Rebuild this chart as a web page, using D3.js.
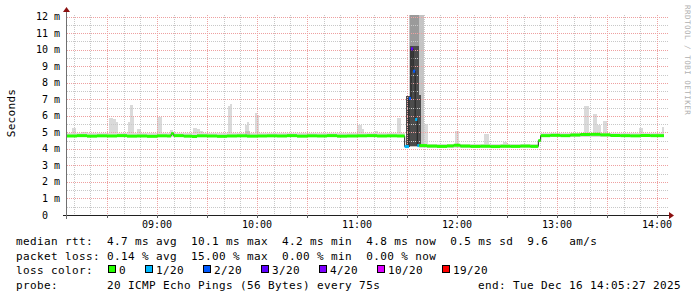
<!DOCTYPE html>
<html>
<head>
<meta charset="utf-8">
<script src="https://cdn.jsdelivr.net/npm/d3@7"></script>
<style>
body { margin: 0; background: #fff; }
svg text { font-family: "DejaVu Sans Mono", monospace; fill: #000; white-space: pre; }
</style>
</head>
<body>
<svg id="chart" width="697" height="297"></svg>
<script>
"use strict";

// Data (minutes after 08:06, values in ms)

const startTime = new Date(2025, 11, 16, 8, 6, 0);
const endTime = new Date(2025, 11, 16, 14, 6, 0);

// [minute, median rtt (ms), loss level index]
const medianRtt = [
	[0, 4.78, 0], [6, 4.80, 0], [12, 4.77, 0], [18, 4.79, 0], [24, 4.78, 0],
	[30, 4.80, 0], [36, 4.77, 0], [42, 4.78, 0], [48, 4.76, 0], [54, 4.79, 0],
	[60, 4.78, 0], [62.5, 4.92, 0], [64, 4.80, 0], [70, 4.77, 0], [75, 4.75, 0],
	[78, 4.79, 0], [84, 4.78, 0], [90, 4.76, 0], [96, 4.78, 0], [102, 4.79, 0],
	[108, 4.77, 0], [114, 4.78, 0], [120, 4.79, 0], [126, 4.78, 0], [132, 4.80, 0],
	[138, 4.77, 0], [144, 4.79, 0], [150, 4.78, 0], [156, 4.80, 0], [162, 4.77, 0],
	[168, 4.78, 0], [174, 4.79, 0], [180, 4.80, 0], [186, 4.78, 0], [192, 4.79, 0],
	[198, 4.78, 0],
	[202.6, 4.14, 1], [205.15, 7.05, 2], [206.4, 10.05, 3], [207.65, 8.7, 2],
	[208.9, 5.78, 1], [210.15, 4.2, 1],
	[211.4, 4.2, 0], [216, 4.17, 0], [222, 4.15, 0], [228, 4.18, 0], [232, 4.22, 0],
	[236, 4.17, 0], [242, 4.15, 0], [248, 4.16, 0], [254, 4.14, 0], [260, 4.16, 0],
	[266, 4.15, 0], [272, 4.17, 0], [278, 4.15, 0], [282.8, 4.5, 0], [284.2, 4.8, 0],
	[290, 4.82, 0], [296, 4.80, 0], [302, 4.84, 0], [308, 4.87, 0], [314, 4.88, 0],
	[320, 4.85, 0], [326, 4.81, 0], [332, 4.80, 0], [338, 4.79, 0], [344, 4.81, 0],
	[350, 4.80, 0], [358.2, 4.80, 0]
];

// light smoke band around the median [from, to, min, max]
const smokeBase = [
	[0, 202.6, 4.70, 4.95],
	[211.4, 282.8, 4.08, 4.30],
	[284.2, 358.2, 4.72, 4.98]
];

// single light smoke spikes [from, to, max]
const smokeSpikes = [
	[3.0, 5.4, 5.28], [8.4, 12.0, 5.0], [25.2, 27.6, 5.89], [27.6, 29.4, 5.79],
	[29.4, 30.6, 5.63], [33.0, 34.8, 4.96], [36.6, 37.8, 5.63], [37.8, 39.6, 6.65],
	[39.6, 40.2, 5.95], [42.0, 44.4, 5.2], [54.0, 57.0, 5.95], [61.8, 63.6, 5.12],
	[63.6, 64.8, 5.0], [75.6, 78.0, 5.26], [78.0, 79.8, 5.18], [79.8, 81.6, 5.1],
	[96.6, 97.8, 6.6], [97.8, 99.0, 6.71], [106.8, 108.0, 5.46], [108.0, 109.2, 5.63],
	[112.8, 114.0, 6.15], [114.0, 115.2, 6.05], [129.6, 135.0, 4.98], [138.6, 148.8, 4.97],
	[174.0, 177.0, 5.44], [177.0, 178.2, 5.2], [184.8, 186.6, 5.06], [198.0, 200.4, 5.87],
	[213.6, 216.6, 5.49], [232.8, 235.2, 5.08], [250.2, 253.2, 4.88], [261.6, 264.0, 4.43],
	[286.8, 289.8, 4.93], [300.0, 301.8, 4.95], [310.2, 313.2, 6.59], [315.6, 318.0, 6.11],
	[318.0, 320.4, 5.44], [321.6, 324.0, 5.69], [343.2, 345.6, 5.28], [357.0, 358.2, 5.32]
];

// denser smoke layers during the outage [from, to, min, max]
const smokeMid = [
	[106.8, 109.8, 4.75, 5.1],
	[205.2, 214.2, 4.1, 12.5]
];
const smokeMid2 = [
	[206.0, 211.2, 4.15, 12.5]
];
const smokeDark = [
	[203.6, 206.0, 4.1, 7.2],
	[206.0, 211.2, 4.15, 10.2],
	[211.2, 212.4, 4.15, 7.25]
];

const lossLabels = ["0", "1/20", "2/20", "3/20", "4/20", "10/20", "19/20"];
const lossColors = ["#26ff00", "#00b8ff", "#0059ff", "#5e00ff", "#7e00ff", "#dd00ff", "#ff0000"];

const yTicks = d3.range(0, 13, 1);
const statLines = [
	"median rtt:  4.7 ms avg  10.1 ms max  4.2 ms min  4.8 ms now  0.5 ms sd  9.6   am/s",
	"packet loss: 0.14 % avg  15.00 % max  0.00 % min  0.00 % now"
];
const probeText = "probe:       20 ICMP Echo Pings (56 Bytes) every 75s";
const endText = "end: Tue Dec 16 14:05:27 2025";

// Set up svg and scales

const svg = d3.select("#chart");
const plotLeft = 67, plotRight = 667, plotTop = 15, plotBottom = 215;

function at(min) {
	return new Date(startTime.getTime() + min * 60000);
}

const x = d3.scaleTime().domain([startTime, endTime]).range([plotLeft, plotRight]);
const y = d3.scaleLinear().domain([0, 12.1]).range([plotBottom, plotTop]).clamp(true);

// Smoke

function drawBands(data, fill) {
	svg.append("g")
		.attr("shape-rendering", "crispEdges")
		.selectAll("rect")
		.data(data)
		.enter()
		.append("rect")
		.attr("x", d => x(at(d[0])))
		.attr("width", d => x(at(d[1])) - x(at(d[0])))
		.attr("y", d => y(d[3]))
		.attr("height", d => y(d[2]) - y(d[3]))
		.attr("fill", fill);
}

drawBands(smokeBase, "#dcdcdc");
// spikes start from the band underneath them
drawBands(smokeSpikes.map(function(d) {
	const base = smokeBase.find(b => d[0] >= b[0] && d[0] < b[1]) || smokeBase[0];
	return [d[0], d[1], base[2], d[2]];
}), "#dadada");
drawBands(smokeMid, "#c4c4c4");
drawBands(smokeMid2, "#9a9a9a");
drawBands(smokeDark, "#4c4c4c");

// Grid

const grid = svg.append("g").attr("shape-rendering", "crispEdges");

grid.selectAll(".hminor")
	.data(d3.range(0.5, 12.1, 1))
	.enter()
	.append("line")
	.attr("x1", plotLeft).attr("x2", plotRight + 1)
	.attr("y1", d => Math.round(y(d)) + 0.5).attr("y2", d => Math.round(y(d)) + 0.5)
	.attr("stroke", "#c8c8c8")
	.attr("stroke-dasharray", "1,1");

grid.selectAll(".vminor")
	.data(x.ticks(d3.timeMinute.every(10)))
	.enter()
	.append("line")
	.attr("x1", d => Math.round(x(d)) + 0.5).attr("x2", d => Math.round(x(d)) + 0.5)
	.attr("y1", plotTop).attr("y2", plotBottom)
	.attr("stroke", "#c8c8c8")
	.attr("stroke-dasharray", "1,1");

grid.selectAll(".hmajor")
	.data(yTicks.slice(1))
	.enter()
	.append("line")
	.attr("x1", plotLeft).attr("x2", plotRight + 1)
	.attr("y1", d => Math.round(y(d)) + 0.5).attr("y2", d => Math.round(y(d)) + 0.5)
	.attr("stroke", "#eea0a0")
	.attr("stroke-dasharray", "1,1");

grid.selectAll(".vmajor")
	.data(x.ticks(d3.timeMinute.every(30)))
	.enter()
	.append("line")
	.attr("x1", d => Math.round(x(d)) + 0.5).attr("x2", d => Math.round(x(d)) + 0.5)
	.attr("y1", plotTop).attr("y2", plotBottom)
	.attr("stroke", "#eea0a0")
	.attr("stroke-dasharray", "1,1");

// Median line: thin dark step line, then loss coloured pieces on top

const line = d3.line()
	.x(d => x(at(d[0])))
	.y(d => y(d[1]))
	.curve(d3.curveStepAfter);

svg.append("path")
	.datum(medianRtt)
	.attr("d", line)
	.attr("fill", "none")
	.attr("stroke", "#202020")
	.attr("stroke-width", 1);

const pieces = medianRtt.slice(0, -1).map(function(d, i) {
	return { from: d[0], to: medianRtt[i + 1][0], v: d[1], loss: d[2] };
});

svg.append("g")
	.selectAll("line")
	.data(pieces)
	.enter()
	.append("line")
	.attr("x1", d => x(at(d.from)))
	.attr("x2", d => x(at(d.to)))
	.attr("y1", d => y(d.v))
	.attr("y2", d => y(d.v))
	.attr("stroke", d => lossColors[d.loss])
	.attr("stroke-width", 3);

// Axes

const axes = svg.append("g").attr("shape-rendering", "crispEdges");

axes.append("line")
	.attr("x1", plotLeft - 4).attr("x2", plotRight + 3)
	.attr("y1", plotBottom + 0.5).attr("y2", plotBottom + 0.5)
	.attr("stroke", "#202020");

axes.append("line")
	.attr("x1", plotLeft - 0.5).attr("x2", plotLeft - 0.5)
	.attr("y1", plotBottom + 4).attr("y2", plotTop - 3)
	.attr("stroke", "#707070");

axes.selectAll(".xtick")
	.data(x.ticks(d3.timeMinute.every(30)))
	.enter()
	.append("line")
	.attr("x1", d => Math.round(x(d)) + 0.5).attr("x2", d => Math.round(x(d)) + 0.5)
	.attr("y1", plotBottom).attr("y2", plotBottom + 3)
	.attr("stroke", "#606060");

// arrows
svg.append("path")
	.attr("d", "M" + (plotRight + 2) + "," + (plotBottom - 3) + "L" + (plotRight + 7) + "," + (plotBottom + 0.5) + "L" + (plotRight + 2) + "," + (plotBottom + 4) + "Z")
	.attr("fill", "#8b1010");
svg.append("path")
	.attr("d", "M" + (plotLeft - 4) + "," + (plotTop - 3) + "L" + (plotLeft - 0.5) + "," + (plotTop - 8) + "L" + (plotLeft + 3) + "," + (plotTop - 3) + "Z")
	.attr("fill", "#8b1010");

// Axis labels

svg.append("g")
	.selectAll("text")
	.data(yTicks)
	.enter()
	.append("text")
	.attr("x", 60)
	.attr("y", d => y(d) + 3.5)
	.attr("text-anchor", "end")
	.style("font-size", "10px")
	.text(d => d === 0 ? "0  " : d + " m");

svg.append("g")
	.selectAll("text")
	.data(x.ticks(d3.timeHour.every(1)))
	.enter()
	.append("text")
	.attr("x", d => x(d))
	.attr("y", 228)
	.attr("text-anchor", "middle")
	.style("font-size", "10px")
	.text(d3.timeFormat("%H:%M"));

svg.append("text")
	.attr("transform", "translate(15,113) rotate(-90)")
	.attr("text-anchor", "middle")
	.style("font-size", "11px")
	.style("letter-spacing", "0.3px")
	.text("Seconds");

svg.append("text")
	.attr("transform", "translate(685,5) rotate(90)")
	.style("font-size", "7.5px")
	.style("letter-spacing", "0.5px")
	.style("fill", "#b0b0b0")
	.text("RRDTOOL / TOBI OETIKER");

// Legend

const legend = svg.append("g")
	.style("font-size", "11px")
	.style("letter-spacing", "0.38px");

legend.selectAll(".stat")
	.data(statLines)
	.enter()
	.append("text")
	.attr("x", 16)
	.attr("y", (d, i) => 245 + i * 14.5)
	.text(d => d);

legend.append("text")
	.attr("x", 16)
	.attr("y", 274)
	.text("loss color:");

let lx = 108;
lossLabels.forEach(function(lbl, i) {
	legend.append("rect")
		.attr("x", lx + 0.5).attr("y", 265.5)
		.attr("width", 7).attr("height", 7)
		.attr("fill", lossColors[i])
		.attr("stroke", "#000")
		.attr("shape-rendering", "crispEdges");
	legend.append("text")
		.attr("x", lx + 11)
		.attr("y", 274)
		.text(lbl);
	lx += 11 + lbl.length * 7 + 19;
});

legend.append("text")
	.attr("x", 16)
	.attr("y", 288.5)
	.text(probeText);

legend.append("text")
	.attr("x", 681)
	.attr("y", 288.5)
	.attr("text-anchor", "end")
	.text(endText);
</script>
</body>
</html>
